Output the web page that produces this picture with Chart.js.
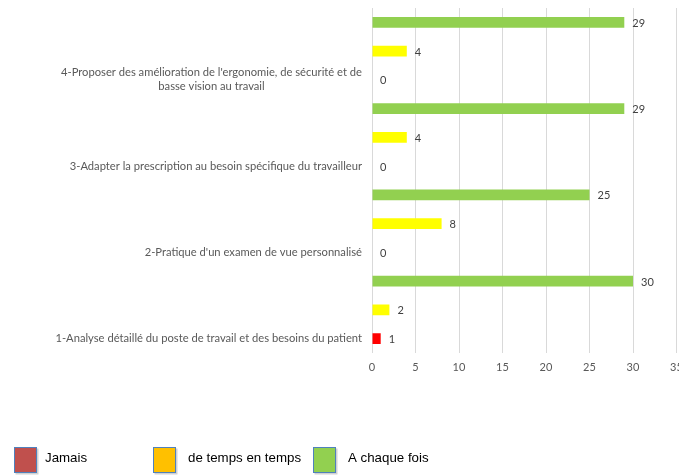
<!DOCTYPE html>
<html><head><meta charset="utf-8">
<script src="https://cdn.jsdelivr.net/npm/chart.js@4.4.0/dist/chart.umd.min.js"></script>
<style>html,body{margin:0;padding:0;background:#fff;}#wrap{width:679px;height:475px;position:relative;}</style>
</head><body><div id="wrap"><canvas id="c" width="679" height="475"></canvas></div>
<script>
const categories = [
  ["1-Analyse détaillé du poste de travail et des besoins du patient"],
  ["2-Pratique d'un examen de vue personnalisé"],
  ["3-Adapter la prescription au besoin spécifique du travailleur"],
  ["4-Proposer des amélioration de l'ergonomie, de sécurité et de", "basse vision au travail"]
];
const seriesNames = ["Jamais", "de temps en temps", "A chaque fois"];
const jamais = [1, 0, 0, 0];
const deTemps = [2, 8, 4, 4];
const aChaque = [30, 25, 29, 29];
const xTicks = [0, 5, 10, 15, 20, 25, 30, 35];

const barColors = ["#FF0000", "#FFFF00", "#92D050"];
const legendColors = ["#C0504D", "#FFC000", "#92D050"];
const labelFont = "Lato, 'Open Sans', sans-serif";

const valueLabels = {
  id: 'valueLabels',
  afterDatasetsDraw(chart) {
    const ctx = chart.ctx;
    ctx.save();
    ctx.font = "11px " + labelFont;
    ctx.fillStyle = "#404040";
    ctx.textBaseline = "middle";
    ctx.textAlign = "left";
    chart.data.datasets.forEach((ds, di) => {
      chart.getDatasetMeta(di).data.forEach((el, i) => {
        ctx.fillText(String(ds.data[i]), el.x + 8, el.y + 1);
      });
    });
    ctx.restore();
  }
};

const catLabels = {
  id: 'catLabels',
  afterDraw(chart) {
    const ctx = chart.ctx;
    const di = chart.data.datasets.findIndex(d => d.label === seriesNames[0]);
    const meta = chart.getDatasetMeta(di);
    ctx.save();
    ctx.font = "11.2px " + labelFont;
    ctx.fillStyle = "#595959";
    ctx.textBaseline = "middle";
    ctx.textAlign = "center";
    const right = chart.chartArea.left - 10;
    const lh = 14;
    categories.forEach((lines, i) => {
      const y0 = meta.data[i].y;
      const w = Math.max(...lines.map(l => ctx.measureText(l).width));
      const cx = right - w / 2;
      const top = y0 - (lines.length - 1) * lh / 2;
      lines.forEach((l, k) => ctx.fillText(l, cx, top + k * lh));
    });
    ctx.restore();
  }
};

const customLegend = {
  id: 'customLegend',
  afterDraw(chart) {
    const ctx = chart.ctx;
    const pos = [{bx: 14, tx: 45}, {bx: 153, tx: 188}, {bx: 313, tx: 348}];
    ctx.save();
    seriesNames.forEach((name, i) => {
      const p = pos[i];
      ctx.fillStyle = "rgba(0,0,0,0.18)";
      ctx.fillRect(p.bx + 1.5, 448.5, 23, 26);
      ctx.fillStyle = legendColors[i];
      ctx.fillRect(p.bx, 447, 23, 26);
      ctx.strokeStyle = "#4F81BD";
      ctx.lineWidth = 1;
      ctx.strokeRect(p.bx + 0.5, 447.5, 22, 25);
      ctx.fillStyle = "#000000";
      ctx.font = "13.3px 'Liberation Sans', Arial, sans-serif";
      ctx.textBaseline = "middle";
      ctx.textAlign = "left";
      ctx.fillText(name, p.tx, 458);
    });
    ctx.restore();
  }
};

new Chart(document.getElementById('c'), {
  type: 'bar',
  data: {
    labels: categories,
    datasets: [
      { label: seriesNames[2], data: aChaque, backgroundColor: barColors[2] },
      { label: seriesNames[1], data: deTemps, backgroundColor: barColors[1] },
      { label: seriesNames[0], data: jamais, backgroundColor: barColors[0] }
    ]
  },
  options: {
    indexAxis: 'y',
    responsive: false,
    animation: false,
    devicePixelRatio: 1,
    datasets: { bar: { categoryPercentage: 1.0, barPercentage: 0.38 } },
    layout: { padding: { top: 8, right: 2.5, bottom: 100, left: 0 } },
    plugins: { legend: { display: false }, tooltip: { enabled: false } },
    scales: {
      x: {
        min: 0, max: 35,
        afterBuildTicks(s) { s.ticks = xTicks.map(v => ({ value: v })); },
        afterFit(s) { s.height = 22; s.paddingRight = 0; s.paddingLeft = 0; },
        grid: { color: "#D9D9D9", drawTicks: false },
        border: { display: false },
        ticks: { color: "#595959", font: { family: labelFont, size: 11 }, padding: 8, maxRotation: 0 }
      },
      y: {
        reverse: true,
        afterFit(s) { s.width = 372; s.paddingTop = 0; s.paddingBottom = 0; },
        grid: { display: false },
        border: { display: false },
        ticks: { display: false }
      }
    }
  },
  plugins: [valueLabels, catLabels, customLegend]
});
</script></body></html>
